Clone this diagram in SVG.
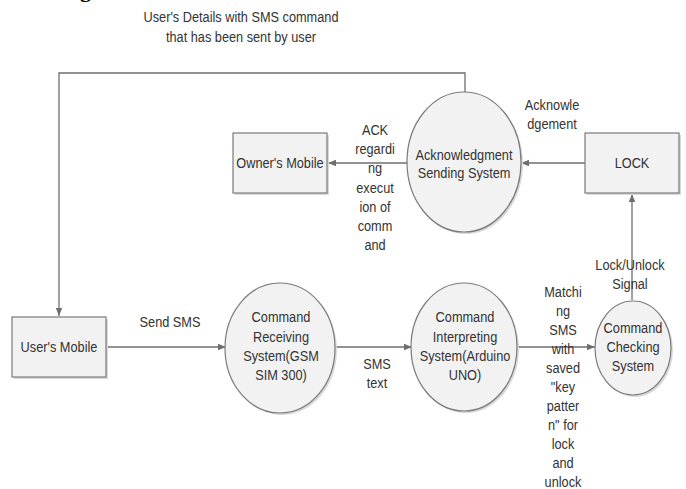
<svg xmlns="http://www.w3.org/2000/svg" width="686" height="489" viewBox="0 0 686 489">
<style>
  .shape { fill: #f2f2f2; stroke: #7a7a7a; stroke-width: 1.2; }
  .shadow { fill: #d9d9d9; stroke: none; }
  .t { font-family: "Liberation Sans", Arial, sans-serif; font-size: 15px; fill: #333333; text-anchor: middle; }
  .line { fill: none; stroke: #6e6e6e; stroke-width: 1.3; }
</style>
<defs>
  <marker id="arr" viewBox="0 0 10 10" refX="10" refY="5" markerWidth="8" markerHeight="8" markerUnits="userSpaceOnUse" orient="auto">
    <path d="M0,1 L10,5 L0,9 Z" fill="#6e6e6e"/>
  </marker>
</defs>
<rect width="686" height="489" fill="#ffffff"/>

<text x="80" y="-3" font-family="Liberation Serif, serif" font-weight="bold" font-size="22" fill="#000">g</text>

<g id="connectors">
  <path class="line" d="M465,92 L465,73 L59,73 L59,316" marker-end="url(#arr)"/>
  <path class="line" d="M407,163 L328,163" marker-end="url(#arr)"/>
  <path class="line" d="M585,163 L521,163" marker-end="url(#arr)"/>
  <path class="line" d="M632,300 L632,194" marker-end="url(#arr)"/>
  <path class="line" d="M107,347 L226,347" marker-end="url(#arr)"/>
  <path class="line" d="M335,347 L412,347" marker-end="url(#arr)"/>
  <path class="line" d="M517,347 L595,347" marker-end="url(#arr)"/>
</g>

<g id="labels">
  <text class="t" transform="translate(241,22) scale(0.85,1)">User's Details with SMS command</text>
  <text class="t" transform="translate(241,42) scale(0.85,1)">that has been sent by user</text>
  <text class="t" transform="translate(375,135) scale(0.85,1)">ACK</text>
  <text class="t" transform="translate(375,154) scale(0.85,1)">regardi</text>
  <text class="t" transform="translate(375,173) scale(0.85,1)">ng</text>
  <text class="t" transform="translate(375,193) scale(0.85,1)">execut</text>
  <text class="t" transform="translate(375,212) scale(0.85,1)">ion of</text>
  <text class="t" transform="translate(375,231) scale(0.85,1)">comm</text>
  <text class="t" transform="translate(375,250) scale(0.85,1)">and</text>
  <text class="t" transform="translate(552,110) scale(0.85,1)">Acknowle</text>
  <text class="t" transform="translate(552,129) scale(0.85,1)">dgement</text>
  <text class="t" transform="translate(630,270) scale(0.85,1)">Lock/Unlock</text>
  <text class="t" transform="translate(630,289) scale(0.85,1)">Signal</text>
  <text class="t" transform="translate(170,327) scale(0.85,1)">Send SMS</text>
  <text class="t" transform="translate(377,369) scale(0.85,1)">SMS</text>
  <text class="t" transform="translate(377,388) scale(0.85,1)">text</text>
  <text class="t" transform="translate(563,297) scale(0.85,1)">Matchi</text>
  <text class="t" transform="translate(563,316) scale(0.85,1)">ng</text>
  <text class="t" transform="translate(563,335) scale(0.85,1)">SMS</text>
  <text class="t" transform="translate(563,354) scale(0.85,1)">with</text>
  <text class="t" transform="translate(563,373) scale(0.85,1)">saved</text>
  <text class="t" transform="translate(563,392) scale(0.85,1)">"key</text>
  <text class="t" transform="translate(563,411) scale(0.85,1)">patter</text>
  <text class="t" transform="translate(563,430) scale(0.85,1)">n" for</text>
  <text class="t" transform="translate(563,449) scale(0.85,1)">lock</text>
  <text class="t" transform="translate(563,468) scale(0.85,1)">and</text>
  <text class="t" transform="translate(563,487) scale(0.85,1)">unlock</text>
</g>

<g id="owners-mobile">
  <rect class="shadow" x="235" y="135" width="94" height="60"/>
  <rect class="shape" x="233" y="133" width="94" height="60"/>
  <text class="t" transform="translate(280,168) scale(0.85,1)">Owner's Mobile</text>
</g>

<g id="ack-sending">
  <ellipse class="shadow" cx="466" cy="164" rx="57" ry="70"/>
  <ellipse class="shape" cx="464" cy="162" rx="57" ry="70"/>
  <text class="t" transform="translate(464,160) scale(0.85,1)">Acknowledgment</text>
  <text class="t" transform="translate(464,178) scale(0.85,1)">Sending System</text>
</g>

<g id="lock">
  <rect class="shadow" x="587" y="135" width="94" height="60"/>
  <rect class="shape" x="585" y="133" width="94" height="60"/>
  <text class="t" transform="translate(632,168) scale(0.85,1)">LOCK</text>
</g>

<g id="users-mobile">
  <rect class="shadow" x="14" y="319" width="94" height="60"/>
  <rect class="shape" x="12" y="317" width="94" height="60"/>
  <text class="t" transform="translate(59,352) scale(0.85,1)">User's Mobile</text>
</g>

<g id="cmd-receiving">
  <ellipse class="shadow" cx="282" cy="350" rx="55" ry="65"/>
  <ellipse class="shape" cx="280" cy="348" rx="55" ry="65"/>
  <text class="t" transform="translate(281,322) scale(0.85,1)">Command</text>
  <text class="t" transform="translate(281,342) scale(0.85,1)">Receiving</text>
  <text class="t" transform="translate(281,361) scale(0.85,1)">System(GSM</text>
  <text class="t" transform="translate(281,380) scale(0.85,1)">SIM 300)</text>
</g>

<g id="cmd-interpreting">
  <ellipse class="shadow" cx="466" cy="349" rx="53" ry="64"/>
  <ellipse class="shape" cx="464" cy="347" rx="53" ry="64"/>
  <text class="t" transform="translate(465,322) scale(0.85,1)">Command</text>
  <text class="t" transform="translate(465,342) scale(0.85,1)">Interpreting</text>
  <text class="t" transform="translate(465,361) scale(0.85,1)">System(Arduino</text>
  <text class="t" transform="translate(465,380) scale(0.85,1)">UNO)</text>
</g>

<g id="cmd-checking">
  <ellipse class="shadow" cx="635" cy="350" rx="38" ry="47"/>
  <ellipse class="shape" cx="633" cy="348" rx="38" ry="47"/>
  <text class="t" transform="translate(633,333) scale(0.85,1)">Command</text>
  <text class="t" transform="translate(633,352) scale(0.85,1)">Checking</text>
  <text class="t" transform="translate(633,371) scale(0.85,1)">System</text>
</g>
</svg>
